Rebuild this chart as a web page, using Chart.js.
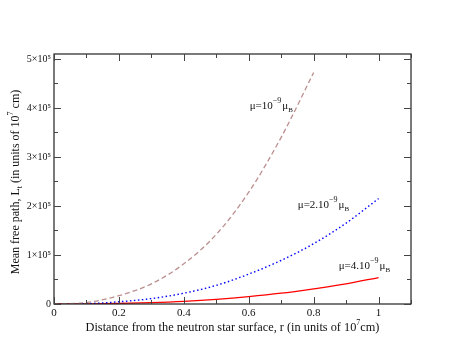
<!DOCTYPE html>
<html>
<head>
<meta charset="utf-8">
<script src="https://cdn.jsdelivr.net/npm/chart.js@4"></script>
<style>
  html, body { margin: 0; padding: 0; background: #fff; }
  #wrap { width: 463px; height: 358px; }
</style>
</head>
<body>
<div id="wrap"><canvas id="mfpChart" width="463" height="358"></canvas></div>
<script>
// distance r (units of 1e7 cm)
const rValues = [0, 0.1, 0.2, 0.3, 0.4, 0.5, 0.6, 0.7, 0.8, 0.9, 1.0];
// mean free path
const mu1Values = [0, 3000, 17000, 41000, 82000, 142000, 228000, 340000, 472000];
const mu2Values = [0, 700, 4500, 11000, 22000, 38000, 61000, 89000, 123000, 165000, 215000];
const mu4Values = [0, 200, 1100, 2800, 5500, 9500, 15000, 22000, 31000, 41000, 54000];

const seriesLabels = ['μ=10', 'μ=2.10', 'μ=4.10'];
// tick positions (majors get a label, the rest are minor)
const xTickValues = [0, 0.1, 0.2, 0.3, 0.4, 0.5, 0.6, 0.7, 0.8, 0.9, 1.0, 1.1];
const xTickLabels = ['0', '', '0.2', '', '0.4', '', '0.6', '', '0.8', '', '1', ''];
const yTickValues = [0, 50000, 100000, 150000, 200000, 250000, 300000, 350000, 400000, 450000, 500000];
const yTickLabels = ['0', '', '1×10⁵', '', '2×10⁵', '', '3×10⁵', '', '4×10⁵', '', '5×10⁵'];

const SERIF = '"Liberation Serif", "Times New Roman", serif';

function toPoints(vals) {
    return vals.map((v, i) => ({ x: rValues[i], y: v }));
}

// inward ticks on all four sides + frame + text annotations
const gracePlugin = {
    id: 'grace',
    afterDraw(chart) {
        const ctx = chart.ctx;
        const a = chart.chartArea;
        const xs = chart.scales.x, ys = chart.scales.y;
        ctx.save();
        ctx.strokeStyle = '#222';
        ctx.lineWidth = 1.2;
        ctx.strokeRect(a.left, a.top, a.right - a.left, a.bottom - a.top);

        ctx.lineWidth = 1;
        ctx.strokeStyle = '#444';
        xTickValues.forEach((v, i) => {
            const len = xTickLabels[i] ? 7 : 4;
            const px = Math.round(xs.getPixelForValue(v)) + 0.5;
            ctx.beginPath();
            ctx.moveTo(px, a.bottom); ctx.lineTo(px, a.bottom - len);
            ctx.moveTo(px, a.top); ctx.lineTo(px, a.top + len);
            ctx.stroke();
        });
        yTickValues.forEach((v, i) => {
            const len = yTickLabels[i] ? 7 : 4;
            const py = Math.round(ys.getPixelForValue(v)) + 0.5;
            ctx.beginPath();
            ctx.moveTo(a.left, py); ctx.lineTo(a.left + len, py);
            ctx.moveTo(a.right, py); ctx.lineTo(a.right - len, py);
            ctx.stroke();
        });

        ctx.fillStyle = '#111';
        ctx.textBaseline = 'alphabetic';

        // series annotations
        const notes = [
            { x: 0.603, y: 398000, text: seriesLabels[0] },
            { x: 0.751, y: 195000, text: seriesLabels[1] },
            { x: 0.877, y: 71000, text: seriesLabels[2] }
        ];
        notes.forEach(n => {
            let px = xs.getPixelForValue(n.x);
            const py = ys.getPixelForValue(n.y);
            ctx.font = '11px ' + SERIF;
            ctx.fillText(n.text, px, py);
            px += ctx.measureText(n.text).width;
            ctx.font = '8px ' + SERIF;
            ctx.fillText('−9', px, py - 6);
            px += ctx.measureText('−9').width + 1;
            ctx.font = '11px ' + SERIF;
            ctx.fillText('μ', px, py);
            px += ctx.measureText('μ').width;
            ctx.font = '7px ' + SERIF;
            ctx.fillText('B', px, py + 3);
        });

        // x axis title
        const xParts = [
            { t: 'Distance from the neutron star surface, r (in units of 10', s: 12.3, dy: 0 },
            { t: '7', s: 8, dy: -6 },
            { t: 'cm)', s: 12.3, dy: 0 }
        ];
        drawParts(ctx, xParts, (a.left + a.right) / 2, 331, 0);

        // y axis title
        const yParts = [
            { t: 'Mean free path, L', s: 12, dy: 0 },
            { t: 't', s: 8, dy: 3 },
            { t: ' (in units of 10', s: 12, dy: 0 },
            { t: '7', s: 8, dy: -6 },
            { t: ' cm)', s: 12, dy: 0 }
        ];
        drawParts(ctx, yParts, 19, (a.top + a.bottom) / 2 + 3, -Math.PI / 2);
        ctx.restore();
    }
};

function drawParts(ctx, parts, cx, cy, rot) {
    let total = 0;
    parts.forEach(p => { ctx.font = p.s + 'px ' + SERIF; p.w = ctx.measureText(p.t).width; total += p.w; });
    ctx.save();
    ctx.translate(cx, cy);
    ctx.rotate(rot);
    let x = -total / 2;
    parts.forEach(p => {
        ctx.font = p.s + 'px ' + SERIF;
        ctx.fillText(p.t, x, p.dy);
        x += p.w;
    });
    ctx.restore();
}

new Chart(document.getElementById('mfpChart').getContext('2d'), {
    type: 'line',
    data: {
        datasets: [
            {
                data: toPoints(mu1Values),
                borderColor: '#bc8f8f',
                borderWidth: 1.3,
                borderDash: [5, 3],
                pointRadius: 0,
                cubicInterpolationMode: 'monotone'
            },
            {
                data: toPoints(mu2Values),
                borderColor: '#0000ff',
                borderWidth: 1.4,
                borderDash: [1.5, 2.5],
                pointRadius: 0,
                cubicInterpolationMode: 'monotone'
            },
            {
                data: toPoints(mu4Values),
                borderColor: '#ff0000',
                borderWidth: 1.3,
                pointRadius: 0,
                cubicInterpolationMode: 'monotone'
            }
        ]
    },
    options: {
        responsive: false,
        animation: false,
        layout: { padding: { left: 14, right: 52, top: 54, bottom: 34 } },
        plugins: { legend: { display: false }, tooltip: { enabled: false } },
        scales: {
            x: {
                type: 'linear',
                min: 0,
                max: 1.1,
                grid: { display: false, drawTicks: false },
                border: { display: false },
                afterFit(scale) { scale.height = 20; },
                afterBuildTicks(scale) { scale.ticks = xTickValues.map(v => ({ value: v })); },
                ticks: {
                    autoSkip: false,
                    maxRotation: 0,
                    padding: 3,
                    color: '#111',
                    font: { family: SERIF, size: 11 },
                    callback: (v, i) => xTickLabels[i]
                }
            },
            y: {
                min: 0,
                max: 510000,
                grid: { display: false, drawTicks: false },
                border: { display: false },
                afterFit(scale) { scale.width = 40; },
                afterBuildTicks(scale) { scale.ticks = yTickValues.map(v => ({ value: v })); },
                ticks: {
                    autoSkip: false,
                    padding: 3,
                    color: '#111',
                    font: { family: SERIF, size: 10 },
                    callback: (v, i) => yTickLabels[i]
                }
            }
        }
    },
    plugins: [gracePlugin]
});
</script>
</body>
</html>
